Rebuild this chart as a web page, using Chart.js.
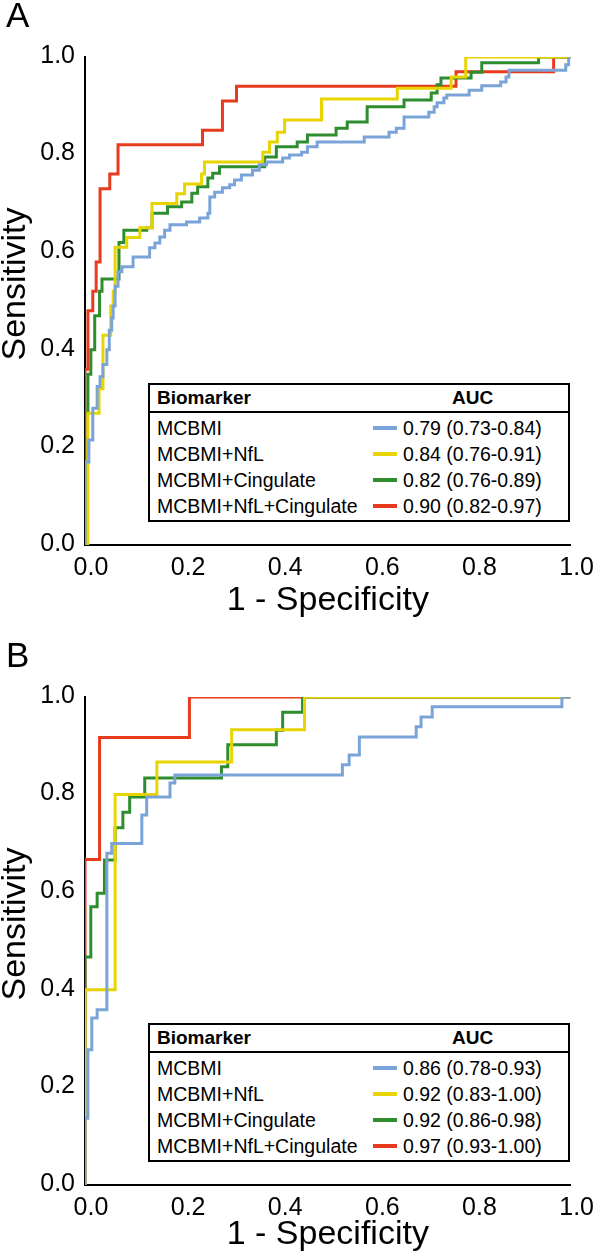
<!DOCTYPE html>
<html>
<head>
<meta charset="utf-8">
<title>ROC curves</title>
<script src="https://cdn.jsdelivr.net/npm/chart.js@4.4.1/dist/chart.umd.min.js"></script>
<style>
  body { margin: 0; background: #fff; }
  #wrap { position: relative; width: 596px; height: 1257px; font-family: "Liberation Sans", Arial, sans-serif; color: #000; }
  .panel { position: absolute; left: 0; width: 596px; }
  .panel canvas { position: absolute; left: 0; top: 0; }
  .letter { position: absolute; left: 6px; top: -3px; font-size: 35px; line-height: 1; }
  .key { position: absolute; left: 148px; top: 383px; width: 422px; height: 139px; border: 2px solid #000; box-sizing: border-box; background: #fff; font-size: 19.5px; }
  .khead { position: absolute; left: 0; top: 0; right: 0; height: 26px; line-height: 26px; border-bottom: 2px solid #000; font-weight: bold; font-size: 19px; }
  .krow { position: absolute; left: 0; right: 0; height: 26px; line-height: 26px; white-space: nowrap; }
  .kname { position: absolute; left: 7px; }
  .kauc { position: absolute; left: 302px; }
  .kline { position: absolute; left: 223px; top: 11px; width: 24px; height: 4px; }
  .kval { position: absolute; left: 253px; }
</style>
</head>
<body>
<div id="wrap">
  <div class="panel" style="top:0;height:640px">
    <canvas id="chartA" width="596" height="640"></canvas>
    <div class="letter">A</div>
    <div class="key" id="keyA"></div>
  </div>
  <div class="panel" style="top:640px;height:617px">
    <canvas id="chartB" width="596" height="617"></canvas>
    <div class="letter">B</div>
    <div class="key" id="keyB"></div>
  </div>
</div>
<script>
// series names and colours, in legend order
const biomarkers = ['MCBMI', 'MCBMI+NfL', 'MCBMI+Cingulate', 'MCBMI+NfL+Cingulate'];
const colors = ['#7aa3d8', '#e8d400', '#2e8d2e', '#e83a1d'];

const aucA = ['0.79 (0.73-0.84)', '0.84 (0.76-0.91)', '0.82 (0.76-0.89)', '0.90 (0.82-0.97)'];
const aucB = ['0.86 (0.78-0.93)', '0.92 (0.83-1.00)', '0.92 (0.86-0.98)', '0.97 (0.93-1.00)'];

const axisTicks = [0, 0.2, 0.4, 0.6, 0.8, 1.0];

// panel A: each (fpr, tpr) pair is where a flat run of the curve starts
const fprA_mcbmi = [0, 0, 0.008, 0.016, 0.025, 0.031, 0.037, 0.045, 0.05, 0.055, 0.058, 0.062, 0.068, 0.076, 0.099, 0.133, 0.144, 0.154, 0.164, 0.175, 0.209, 0.236, 0.253, 0.257, 0.267, 0.283, 0.298, 0.308, 0.322, 0.345, 0.359, 0.374, 0.407, 0.421, 0.446, 0.458, 0.478, 0.575, 0.626, 0.641, 0.657, 0.708, 0.719, 0.725, 0.739, 0.745, 0.791, 0.817, 0.856, 0.867, 0.873, 0.99, 0.996, 1];
const tprA_mcbmi = [0, 0.17, 0.215, 0.28, 0.325, 0.345, 0.37, 0.40, 0.44, 0.465, 0.49, 0.53, 0.56, 0.57, 0.59, 0.609, 0.619, 0.631, 0.645, 0.656, 0.662, 0.67, 0.68, 0.713, 0.723, 0.732, 0.738, 0.748, 0.758, 0.768, 0.779, 0.785, 0.793, 0.799, 0.805, 0.816, 0.826, 0.836, 0.846, 0.854, 0.877, 0.887, 0.898, 0.906, 0.916, 0.922, 0.932, 0.941, 0.949, 0.959, 0.973, 0.984, 1, 1];
const fprA_nfl = [0, 0.006, 0.029, 0.037, 0.053, 0.058, 0.062, 0.086, 0.113, 0.138, 0.189, 0.205, 0.24, 0.246, 0.366, 0.38, 0.396, 0.411, 0.487, 0.643, 0.754, 0.784, 1];
const tprA_nfl = [0, 0.27, 0.32, 0.43, 0.49, 0.52, 0.61, 0.63, 0.65, 0.70, 0.72, 0.74, 0.76, 0.785, 0.805, 0.826, 0.846, 0.871, 0.914, 0.936, 0.959, 1, 1];
const fprA_cing = [0, 0, 0.006, 0.012, 0.02, 0.03, 0.035, 0.07, 0.08, 0.127, 0.138, 0.17, 0.199, 0.22, 0.232, 0.253, 0.263, 0.277, 0.37, 0.394, 0.437, 0.458, 0.517, 0.54, 0.581, 0.657, 0.713, 0.725, 0.733, 0.795, 0.817, 0.934, 1];
const tprA_cing = [0, 0.27, 0.35, 0.40, 0.47, 0.52, 0.545, 0.62, 0.645, 0.65, 0.68, 0.693, 0.703, 0.721, 0.734, 0.752, 0.762, 0.775, 0.795, 0.816, 0.826, 0.84, 0.854, 0.867, 0.898, 0.912, 0.926, 0.943, 0.957, 0.969, 0.988, 1, 1];
const fprA_all = [0, 0, 0.006, 0.016, 0.023, 0.031, 0.051, 0.068, 0.242, 0.283, 0.312, 0.764, 0.965, 1];
const tprA_all = [0, 0.36, 0.48, 0.52, 0.58, 0.73, 0.76, 0.82, 0.85, 0.91, 0.94, 0.97, 1, 1];

// panel B
const fprB_mcbmi = [0, 0, 0.006, 0.014, 0.025, 0.045, 0.055, 0.117, 0.127, 0.175, 0.185, 0.53, 0.544, 0.565, 0.682, 0.692, 0.715, 0.982, 1];
const tprB_mcbmi = [0, 0.137, 0.277, 0.342, 0.359, 0.68, 0.70, 0.758, 0.795, 0.824, 0.84, 0.861, 0.881, 0.918, 0.939, 0.959, 0.98, 1, 1];
const fprB_nfl = [0, 0, 0.062, 0.148, 0.302, 0.452, 1];
const tprB_nfl = [0, 0.40, 0.80, 0.867, 0.933, 1, 1];
const fprB_cing = [0, 0, 0.012, 0.025, 0.04, 0.062, 0.078, 0.092, 0.123, 0.281, 0.294, 0.394, 0.407, 0.448, 1];
const tprB_cing = [0, 0.467, 0.57, 0.598, 0.666, 0.732, 0.764, 0.795, 0.834, 0.857, 0.902, 0.932, 0.969, 1, 1];
const fprB_all = [0, 0, 0.03, 0.215, 1];
const tprB_all = [0, 0.667, 0.917, 1, 1];

const FONT = '"Liberation Sans", Arial, sans-serif';

// turn run starts into a staircase: go right first, then up
function steps(fpr, tpr) {
  const pts = [{ x: fpr[0], y: tpr[0] }];
  for (let i = 1; i < fpr.length; i++) {
    pts.push({ x: fpr[i], y: tpr[i - 1] });
    pts.push({ x: fpr[i], y: tpr[i] });
  }
  return pts;
}

// rotated y title, sits a bit above the middle of the axis like the original
const yTitle = {
  id: 'yTitle',
  afterDraw(chart, args, opts) {
    const { ctx, chartArea } = chart;
    ctx.save();
    ctx.font = '34px ' + FONT;
    ctx.fillStyle = '#000';
    ctx.textAlign = 'center';
    ctx.textBaseline = 'alphabetic';
    ctx.translate(opts.x, (chartArea.top + chartArea.bottom) / 2 + opts.shift);
    ctx.rotate(-Math.PI / 2);
    ctx.fillText(opts.text, 0, 0);
    ctx.restore();
  }
};

function makeChart(id, series, canvasH, titlePad) {
  new Chart(document.getElementById(id), {
    type: 'line',
    data: {
      datasets: series.map((s, i) => ({
        label: biomarkers[i],
        data: steps(s[0], s[1]),
        borderColor: colors[i],
        borderWidth: 3,
        pointRadius: 0,
        tension: 0,
        fill: false
      }))
    },
    options: {
      responsive: false,
      animation: false,
      events: [],
      layout: { padding: { top: 57, right: 24, left: 0, bottom: 0 } },
      plugins: {
        legend: { display: false },
        tooltip: { enabled: false },
        yTitle: { text: 'Sensitivity', x: 25, shift: -17 }
      },
      scales: {
        x: {
          type: 'linear', min: 0, max: 1,
          afterBuildTicks: (axis) => { axis.ticks = axisTicks.map(v => ({ value: v })); },
          afterFit: (axis) => { axis.height = canvasH - 545; },
          grid: { display: false, drawTicks: false, tickLength: 0 },
          border: { display: true, color: '#000', width: 2 },
          ticks: {
            color: '#000', font: { size: 25, family: FONT }, padding: 8, labelOffset: 6,
            maxRotation: 0, callback: (v) => Number(v).toFixed(1)
          },
          title: {
            display: true, text: '1 - Specificity', color: '#000',
            font: { size: 34, family: FONT }, padding: { top: 0, bottom: titlePad }
          }
        },
        y: {
          type: 'linear', min: 0, max: 1,
          afterBuildTicks: (axis) => { axis.ticks = axisTicks.map(v => ({ value: v })); },
          afterFit: (axis) => { axis.width = 85; },
          grid: { display: false, drawTicks: false, tickLength: 0 },
          border: { display: true, color: '#000', width: 2 },
          ticks: {
            color: '#000', font: { size: 25, family: FONT }, padding: 10, labelOffset: -1,
            callback: (v) => Number(v).toFixed(1)
          }
        }
      }
    },
    plugins: [yTitle]
  });
}

function buildKey(id, auc) {
  let html = '<div class="khead"><span class="kname">Biomarker</span><span class="kauc">AUC</span></div>';
  biomarkers.forEach((name, i) => {
    html += '<div class="krow" style="top:' + (30 + 26 * i) + 'px">' +
      '<span class="kname">' + name + '</span>' +
      '<span class="kline" style="background:' + colors[i] + '"></span>' +
      '<span class="kval">' + auc[i] + '</span></div>';
  });
  document.getElementById(id).innerHTML = html;
}

makeChart('chartA', [[fprA_mcbmi, tprA_mcbmi], [fprA_nfl, tprA_nfl], [fprA_cing, tprA_cing], [fprA_all, tprA_all]], 640, 18.6);
makeChart('chartB', [[fprB_mcbmi, tprB_mcbmi], [fprB_nfl, tprB_nfl], [fprB_cing, tprB_cing], [fprB_all, tprB_all]], 617, 1.6);
buildKey('keyA', aucA);
buildKey('keyB', aucB);
</script>
</body>
</html>
